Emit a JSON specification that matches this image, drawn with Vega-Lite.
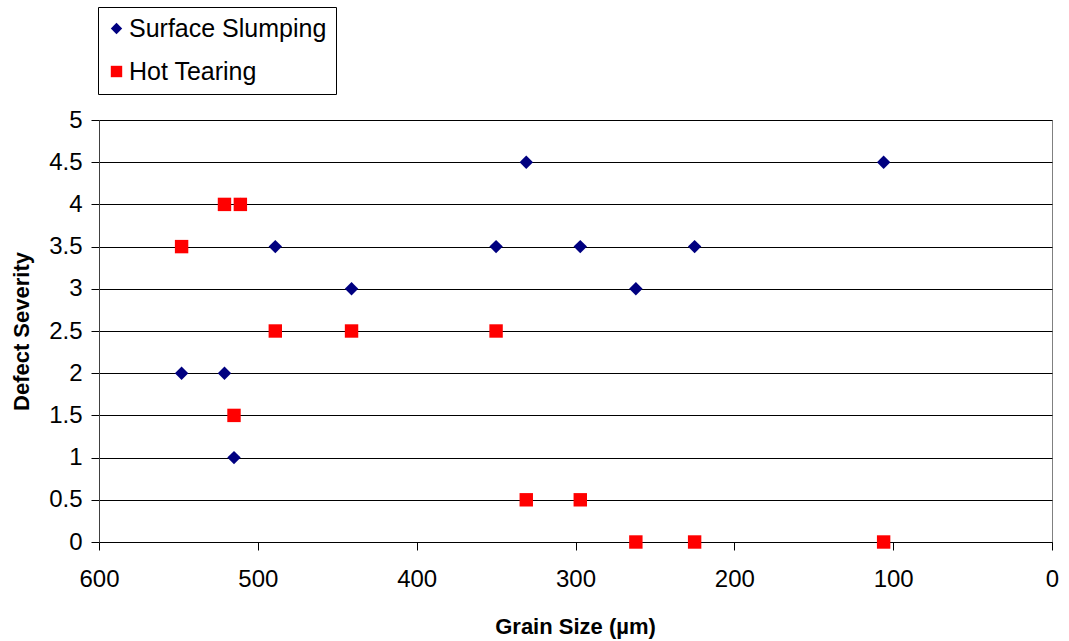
{
  "$schema": "https://vega.github.io/schema/vega-lite/v6.json",
  "autosize": {"type": "none"},
  "width": 953,
  "height": 422,
  "padding": {"left": 99, "top": 120, "right": 17, "bottom": 99},
  "background": "white",
  "config": {
    "font": "Liberation Sans",
    "view": {"stroke": "#808080", "strokeWidth": 1},
    "axis": {
      "labelFont": "Liberation Sans",
      "labelFontSize": 24,
      "labelColor": "black",
      "labelFlush": false,
      "titleFont": "Liberation Sans",
      "titleFontSize": 22,
      "titleFontWeight": "bold",
      "titleColor": "black",
      "tickColor": "black",
      "tickSize": 8,
      "domainColor": "black",
      "gridColor": "black",
      "gridOpacity": 1,
      "gridWidth": 1
    },
    "legend": {
      "title": null,
      "orient": "none",
      "legendX": -1,
      "legendY": -113,
      "direction": "vertical",
      "strokeColor": "black",
      "fillColor": "white",
      "padding": 9,
      "rowPadding": 17,
      "labelFont": "Liberation Sans",
      "labelFontSize": 25,
      "labelColor": "black",
      "labelOffset": 0,
      "labelLimit": 0,
      "symbolSize": 130,
      "symbolOffset": -3,
      "symbolOpacity": 1
    }
  },
  "data": {
    "values": [
      {"series": "Surface Slumping", "grain": 548, "severity": 2},
      {"series": "Surface Slumping", "grain": 521, "severity": 2},
      {"series": "Surface Slumping", "grain": 515, "severity": 1},
      {"series": "Surface Slumping", "grain": 511, "severity": 4},
      {"series": "Surface Slumping", "grain": 489, "severity": 3.5},
      {"series": "Surface Slumping", "grain": 441, "severity": 3},
      {"series": "Surface Slumping", "grain": 350, "severity": 3.5},
      {"series": "Surface Slumping", "grain": 331, "severity": 4.5},
      {"series": "Surface Slumping", "grain": 297, "severity": 3.5},
      {"series": "Surface Slumping", "grain": 262, "severity": 3},
      {"series": "Surface Slumping", "grain": 225, "severity": 3.5},
      {"series": "Surface Slumping", "grain": 106, "severity": 4.5},
      {"series": "Hot Tearing", "grain": 548, "severity": 3.5},
      {"series": "Hot Tearing", "grain": 521, "severity": 4},
      {"series": "Hot Tearing", "grain": 515, "severity": 1.5},
      {"series": "Hot Tearing", "grain": 511, "severity": 4},
      {"series": "Hot Tearing", "grain": 489, "severity": 2.5},
      {"series": "Hot Tearing", "grain": 441, "severity": 2.5},
      {"series": "Hot Tearing", "grain": 350, "severity": 2.5},
      {"series": "Hot Tearing", "grain": 331, "severity": 0.5},
      {"series": "Hot Tearing", "grain": 297, "severity": 0.5},
      {"series": "Hot Tearing", "grain": 262, "severity": 0},
      {"series": "Hot Tearing", "grain": 225, "severity": 0},
      {"series": "Hot Tearing", "grain": 106, "severity": 0}
    ]
  },
  "mark": {"type": "point", "filled": true, "opacity": 1, "size": 180},
  "encoding": {
    "x": {
      "field": "grain",
      "type": "quantitative",
      "scale": {"domain": [0, 600], "reverse": true, "nice": false},
      "axis": {
        "title": "Grain Size (µm)",
        "values": [0, 100, 200, 300, 400, 500, 600],
        "grid": false,
        "labelPadding": 17,
        "titleX": 476,
        "titleY": 84,
        "titleBaseline": "middle"
      }
    },
    "y": {
      "field": "severity",
      "type": "quantitative",
      "scale": {"domain": [0, 5], "nice": false},
      "axis": {
        "title": "Defect Severity",
        "values": [0, 0.5, 1, 1.5, 2, 2.5, 3, 3.5, 4, 4.5, 5],
        "format": "~g",
        "labelPadding": 9,
        "domainColor": "#404040",
        "titleX": -78,
        "titleY": 211,
        "titleAlign": "center",
        "titleBaseline": "middle"
      }
    },
    "color": {
      "field": "series",
      "type": "nominal",
      "scale": {"domain": ["Surface Slumping", "Hot Tearing"], "range": ["#000080", "#FF0000"]}
    },
    "shape": {
      "field": "series",
      "type": "nominal",
      "scale": {"domain": ["Surface Slumping", "Hot Tearing"], "range": ["diamond", "square"]}
    }
  }
}
